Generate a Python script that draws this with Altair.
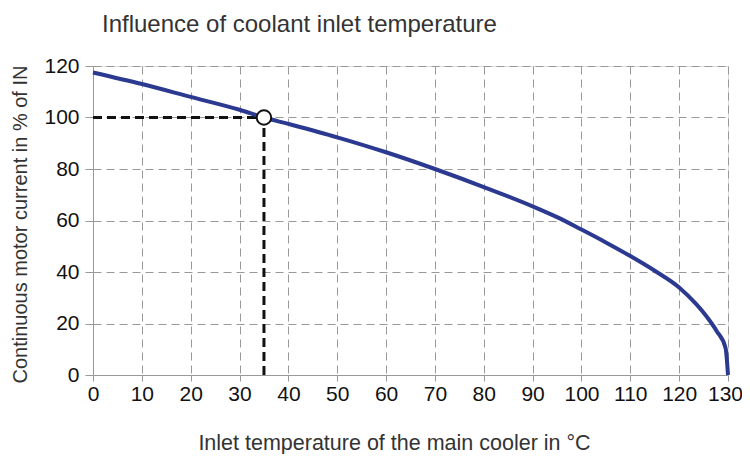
import altair as alt
import pandas as pd

# Curve: inlet temperature (°C) vs continuous motor current (% of IN)
temp = [0, 10, 20, 30, 35, 40, 50, 60, 70, 80, 90, 95, 100, 105, 110, 115, 120, 123.5, 125.5, 127.7, 129.5, 130]
current = [117.5, 113, 108, 103, 100, 97.5, 92.3, 86.5, 80, 73, 65.5, 61.3, 56.5, 51.5, 46.2, 40.5, 34, 27.5, 23, 17, 10.5, 0]

# Reference point
ref_temp = [35]
ref_current = [100]

x_tick_values = list(range(0, 131, 5))
x_label_values = [0, 10, 20, 30, 35, 40, 50, 60, 70, 80, 90, 100, 110, 120, 130]
y_tick_values = [0, 20, 40, 60, 80, 100, 120]

curve_df = pd.DataFrame({"t": temp, "i": current})
ref_df = pd.DataFrame({"t": ref_temp, "i": ref_current, "x0": [0], "y0": [0]})

FONT = "Liberation Sans"
label_list = ",".join(str(v) for v in x_label_values)

x_scale = alt.Scale(domain=[0, 130], nice=False, zero=False)
y_scale = alt.Scale(domain=[0, 120], nice=False)

x_axis = alt.Axis(
    values=x_tick_values,
    labelExpr=f"indexof([{label_list}], datum.value) >= 0 ? datum.label : ''",
    labelOverlap=False, labelFlush=False, labelBound=False,
    labelOffset={"condition": {"test": "datum.value == 130", "value": -3}, "value": 0},
    labelFont=FONT, labelFontSize=21, labelColor="#111", labelPadding=2,
    tickSize=6, tickColor="#999", tickWidth=1,
    domainColor="#999", domainWidth=1,
    grid=True,
    gridDash=[8, 5], gridColor="#999", gridWidth=1,
    gridOpacity={"condition": {"test": "datum.value % 10 != 0", "value": 0}, "value": 1},
    title="Inlet temperature of the main cooler in °C",
    titleFont=FONT, titleFontSize=21.5, titleFontWeight="normal", titleColor="#333",
    titleX=301, titleY=74, titleBaseline="alphabetic", titleAlign="center",
)

y_axis = alt.Axis(
    values=y_tick_values,
    labelFont=FONT, labelFontSize=21, labelColor="#111", labelPadding=6,
    labelFlush=False,
    tickSize=8, tickColor="#999",
    domainColor="#999",
    grid=True, gridDash=[8, 5], gridColor="#999", gridWidth=1,
    title="Continuous motor current in % of IN",
    titleFont=FONT, titleFontSize=20, titleFontWeight="normal", titleColor="#333",
    titleX=-73, titleY=158, titleAngle=-90, titleBaseline="middle", titleAlign="center",
)

line = alt.Chart(curve_df).mark_line(
    color="#2b3990", strokeWidth=4, strokeJoin="round", interpolate="monotone"
).encode(
    x=alt.X("t:Q", scale=x_scale, axis=x_axis),
    y=alt.Y("i:Q", scale=y_scale, axis=y_axis),
)

h_ref = alt.Chart(ref_df).mark_rule(color="#111", strokeWidth=3, strokeDash=[9, 5]).encode(
    x=alt.X("x0:Q", scale=x_scale),
    x2="t:Q",
    y=alt.Y("i:Q", scale=y_scale),
)

v_ref = alt.Chart(ref_df).mark_rule(color="#111", strokeWidth=3, strokeDash=[9, 5]).encode(
    x=alt.X("t:Q", scale=x_scale),
    y=alt.Y("y0:Q", scale=y_scale),
    y2="i:Q",
)

pt = alt.Chart(ref_df).mark_point(filled=True, fill="white", stroke="#111", strokeWidth=2, size=210, opacity=1).encode(
    x=alt.X("t:Q", scale=x_scale),
    y=alt.Y("i:Q", scale=y_scale),
)

chart = alt.layer(h_ref, v_ref, line, pt).properties(
    width=635,
    height=309,
    autosize=alt.AutoSizeParams(type="none"),
    padding={"left": 85, "top": 58, "right": 14, "bottom": 79},
    title=alt.TitleParams(
        "Influence of coolant inlet temperature",
        anchor="start", frame="group", font=FONT, fontSize=24, fontWeight="normal",
        color="#333", dx=9, baseline="alphabetic", offset=-1,
    ),
).configure_view(stroke="#999", strokeWidth=1).configure(background="white")

chart.save("out.html", embed_options={"renderer": "svg", "actions": False})
